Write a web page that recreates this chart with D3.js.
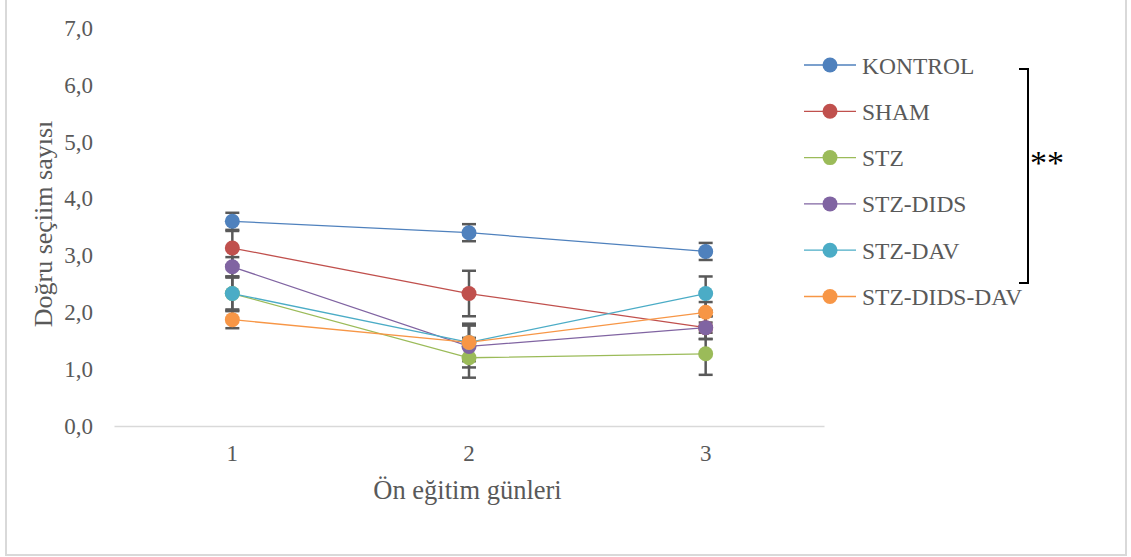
<!DOCTYPE html>
<html>
<head>
<meta charset="utf-8">
<script src="https://cdn.jsdelivr.net/npm/d3@7/dist/d3.min.js"></script>
<style>
  html, body { margin: 0; padding: 0; background: #fff; }
  svg { display: block; }
</style>
</head>
<body>
<svg id="chart" width="1131" height="557"></svg>
<script>
// Training days (x categories)
const days = ["1", "2", "3"];
// Group names, in legend order
const groups = ["KONTROL", "SHAM", "STZ", "STZ-DIDS", "STZ-DAV", "STZ-DIDS-DAV"];
const groupColors = ["#4F81BD", "#C0504D", "#9BBB59", "#8064A2", "#4BACC6", "#F79646"];
// Mean number of correct choices per group, per day
const kontrol     = [3.60, 3.40, 3.07];
const sham        = [3.13, 2.33, 1.73];
const stz         = [2.33, 1.20, 1.27];
const stzDids     = [2.80, 1.40, 1.73];
const stzDav      = [2.33, 1.47, 2.33];
const stzDidsDav  = [1.87, 1.47, 2.00];
// Standard error per group, per day
const kontrolErr    = [0.15, 0.15, 0.15];
const shamErr       = [0.30, 0.40, 0.20];
const stzErr        = [0.30, 0.35, 0.37];
const stzDidsErr    = [0.17, 0.37, 0.20];
const stzDavErr     = [0.28, 0.33, 0.30];
const stzDidsDavErr = [0.15, 0.30, 0.18];
// Y-axis tick values
const yTicks = [0, 1, 2, 3, 4, 5, 6, 7];

const FONT = "'Liberation Serif', 'Times New Roman', Tinos, 'DejaVu Serif', serif";

const seriesValues = [kontrol, sham, stz, stzDids, stzDav, stzDidsDav];
const seriesErrors = [kontrolErr, shamErr, stzErr, stzDidsErr, stzDavErr, stzDidsDavErr];
const series = groups.map((name, i) => ({
  name, color: groupColors[i],
  points: days.map((d, j) => ({ day: d, value: seriesValues[i][j], err: seriesErrors[i][j] }))
}));

const svg = d3.select("#chart").attr("font-family", FONT);
const textColor = "#595959";

// Outer chart frame
svg.append("rect")
  .attr("x", 6).attr("y", -2).attr("width", 1120).attr("height", 557)
  .attr("fill", "none").attr("stroke", "#d9d9d9").attr("stroke-width", 2);

const plot = { left: 114, right: 824, top: 28, bottom: 426 };

const x = d3.scaleBand().domain(days).range([plot.left, plot.right]);
const y = d3.scaleLinear().domain([0, 7]).range([plot.bottom, plot.top]);
const cx = d => x(d) + x.bandwidth() / 2;

// Y axis: labels only
const yAxis = svg.append("g")
  .attr("transform", `translate(${plot.left},0)`)
  .call(d3.axisLeft(y).tickValues(yTicks).tickSize(0).tickPadding(21)
        .tickFormat(v => d3.format(".1f")(v).replace(".", ",")));
yAxis.attr("font-family", FONT).attr("font-size", 23);
yAxis.select(".domain").remove();
yAxis.selectAll("text").attr("fill", textColor);

// X axis: baseline plus category labels
const xAxis = svg.append("g")
  .attr("transform", `translate(0,${plot.bottom})`)
  .call(d3.axisBottom(x).tickSize(0).tickPadding(19));
xAxis.attr("font-family", FONT).attr("font-size", 23);
xAxis.select(".domain").attr("stroke", "#d9d9d9").attr("stroke-width", 1.5);
xAxis.selectAll("text").attr("fill", textColor);

// Axis titles
svg.append("text")
  .attr("x", (plot.left + plot.right) / 2 - 1.5).attr("y", 499)
  .attr("text-anchor", "middle").attr("fill", textColor)
  .attr("font-size", 26.5)
  .text("Ön eğitim günleri");

svg.append("text")
  .attr("transform", "translate(52,224) rotate(-90)")
  .attr("text-anchor", "middle").attr("fill", textColor)
  .attr("font-size", 26)
  .text("Doğru seçiim sayısı");

// Series lines
const line = d3.line().x(p => cx(p.day)).y(p => y(p.value));
svg.append("g").selectAll("path").data(series).join("path")
  .attr("d", s => line(s.points))
  .attr("fill", "none").attr("stroke", s => s.color).attr("stroke-width", 1.3);

// Error bars
const errG = svg.append("g").attr("stroke", "#595959").attr("stroke-width", 2.5);
series.forEach(s => {
  s.points.forEach(p => {
    const px = cx(p.day);
    errG.append("line").attr("x1", px).attr("x2", px)
      .attr("y1", y(p.value + p.err)).attr("y2", y(p.value - p.err));
    [p.value + p.err, p.value - p.err].forEach(v => {
      errG.append("line").attr("x1", px - 7).attr("x2", px + 7)
        .attr("y1", y(v)).attr("y2", y(v));
    });
  });
});

// Markers
series.forEach(s => {
  svg.append("g").selectAll("circle").data(s.points).join("circle")
    .attr("cx", p => cx(p.day)).attr("cy", p => y(p.value))
    .attr("r", 7.5).attr("fill", s.color);
});

// Legend
const legend = svg.append("g");
const legendY = d3.scalePoint().domain(groups).range([65, 296.5]);
series.forEach(s => {
  const g = legend.append("g").attr("transform", `translate(0,${legendY(s.name)})`);
  g.append("line").attr("x1", 804).attr("x2", 856).attr("y1", 0).attr("y2", 0)
    .attr("stroke", s.color).attr("stroke-width", 1.3);
  g.append("circle").attr("cx", 830).attr("cy", 0).attr("r", 7.5).attr("fill", s.color);
  g.append("text").attr("x", 862).attr("y", 8.5).attr("fill", textColor)
    .attr("font-size", 23.5).text(s.name);
});

// Significance bracket
svg.append("path")
  .attr("d", "M1019,69 H1028 V283 H1019")
  .attr("fill", "none").attr("stroke", "#000").attr("stroke-width", 2);
svg.append("text")
  .attr("x", 1030).attr("y", 174).attr("fill", "#000")
  .attr("font-size", 34).text("**");
</script>
</body>
</html>
